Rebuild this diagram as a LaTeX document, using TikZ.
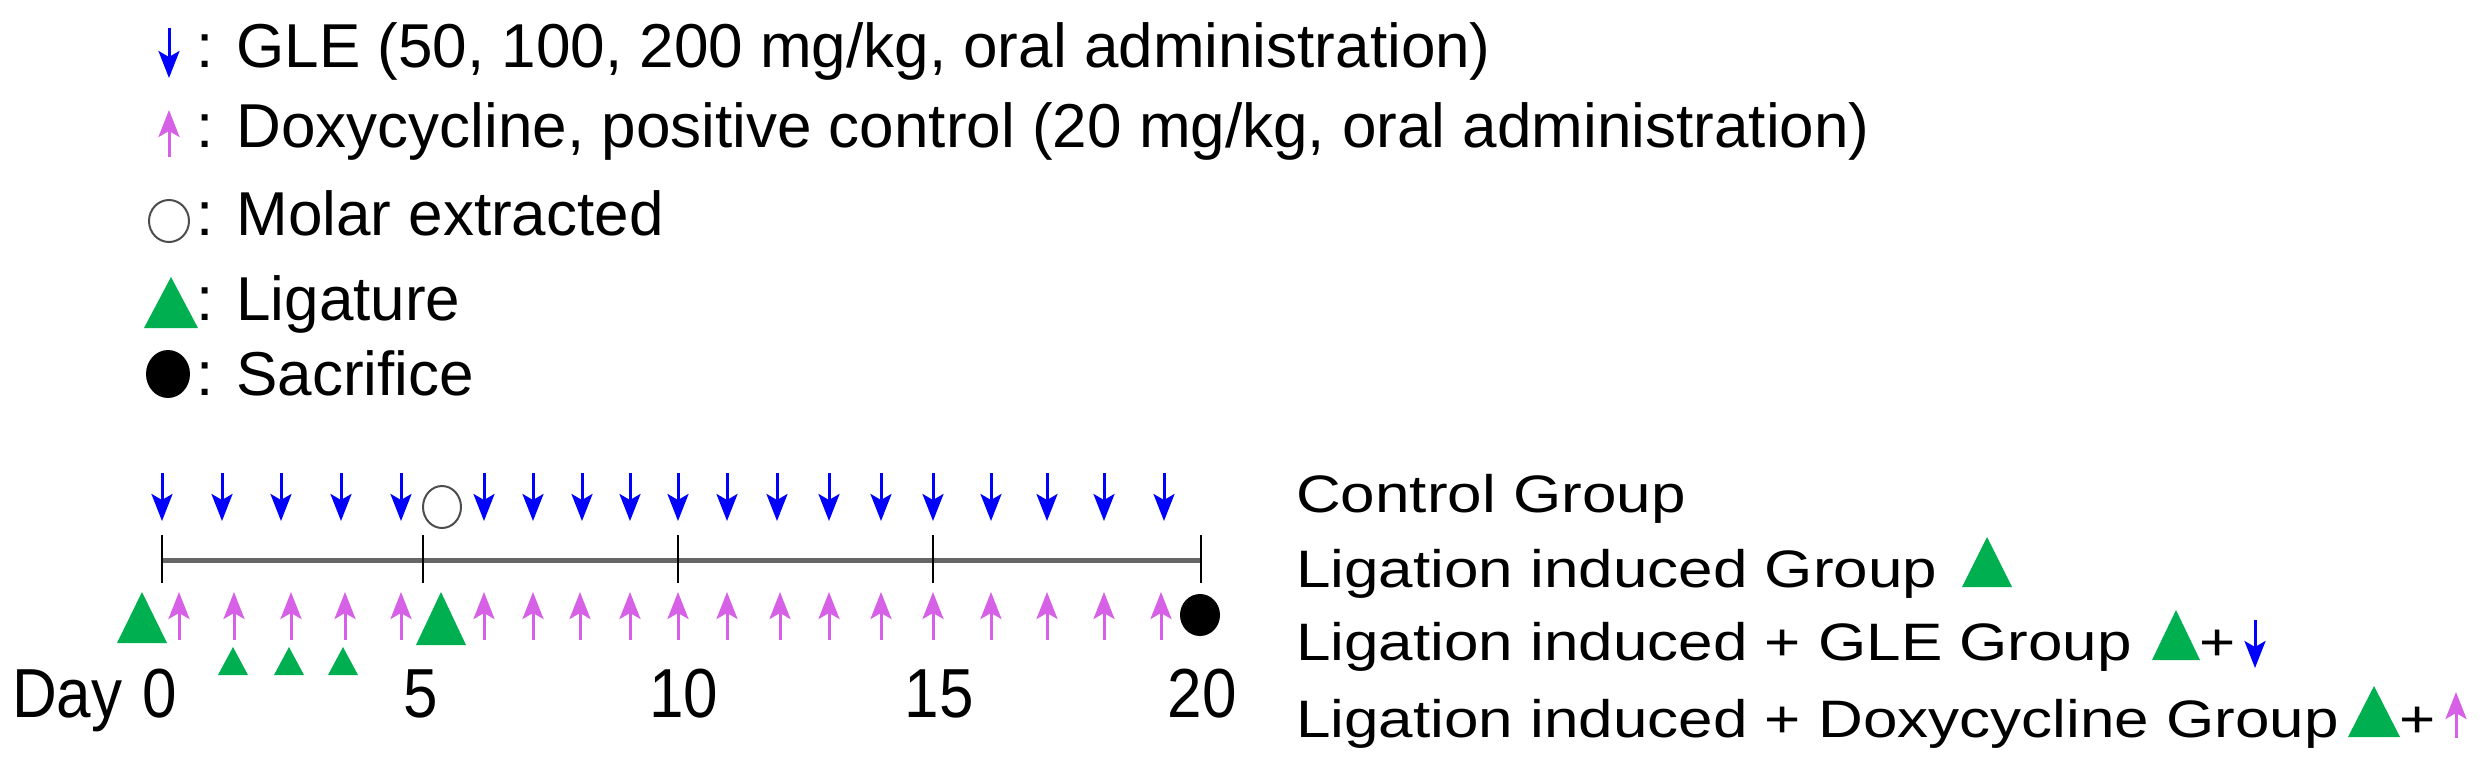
\documentclass[tikz,border=0pt]{standalone}
\usepackage{fontspec}
\setmainfont{Liberation Sans}
\usetikzlibrary{arrows.meta}
\definecolor{bl}{RGB}{0,0,255}
\definecolor{mg}{RGB}{214,96,230}
\definecolor{gr}{RGB}{0,176,80}
\tikzset{
  txt/.style={anchor=base west,inner sep=0pt,font=\fontsize{62}{70}\selectfont},
  grp/.style={txt,yscale=0.85},
  num/.style={anchor=base,inner sep=0pt,font=\fontsize{62}{70}\selectfont,yscale=1.12},
  dn/.style={bl,line width=3pt,-{Stealth[length=27pt,width=21pt,inset=6pt]}},
  up/.style={mg,line width=3pt,-{Stealth[length=27pt,width=21pt,inset=6pt]}},
}
\begin{document}
\begin{tikzpicture}[x=1pt,y=1pt,every node/.append style={transform shape}]
\useasboundingbox (0,0) rectangle (2485,-764);
% legend
\draw[dn] (169,-28) -- (169,-78);
\node[txt] (l1) at (196,-67) {: GLE (50, 100, 200 mg/kg, oral administration)};
\draw[up] (169,-157) -- (169,-110);
\node[txt] (l2) at (196,-147) {: Doxycycline, positive control (20 mg/kg, oral administration)};
\draw[black!70,line width=2pt] (169,-221) ellipse (20 and 21);
\node[txt] (l3) at (196,-235) {: Molar extracted};
\fill[gr] (171,-277) -- (144,-328) -- (198,-328) -- cycle;
\node[txt] (l4) at (196,-320) {: Ligature};
\fill[black] (168,-374) ellipse (22 and 24);
\node[txt] (l5) at (196,-395) {: Sacrifice};
% axis
\draw[black!60,line width=5pt] (162,-560) -- (1201,-560);
\foreach \x in {162,423,678,933,1201} \draw[black,line width=2pt] (\x,-535) -- (\x,-583);
\node[txt,yscale=1.12] (day) at (12,-717) {Day};
\foreach \x/\n in {160/0,421/5,684/10,939/15,1202/20}
  \node[num] (d\n) at (\x,-717) {\n};
% blue arrows
\foreach \x in {162,222,281,341,401,484,533,582,630,678,727,777,829,881,933,991,1047,1104,1164}
  \draw[dn] (\x,-473) -- (\x,-521);
\draw[black!70,line width=2pt] (442,-507) ellipse (19 and 21);
% magenta arrows
\foreach \x in {179,234,291,345,401,484,533,580,630,678,727,780,829,881,933,991,1047,1104,1161}
  \draw[up] (\x,-640) -- (\x,-592);
\fill[gr] (142,-592) -- (117,-643) -- (167,-643) -- cycle;
\fill[gr] (441,-592) -- (416,-645) -- (466,-645) -- cycle;
\foreach \x in {233,289,343} \fill[gr] (\x,-647) -- ++(-15,-28) -- ++(30,0) -- cycle;
\fill[black] (1200,-615) ellipse (20 and 21);
% groups
\node[grp] (g1) at (1296,-512) {Control Group};
\node[grp] (g2) at (1296,-587) {Ligation induced Group};
\node[grp] (g3) at (1296,-660) {Ligation induced + GLE Group};
\node[grp] (g4) at (1296,-737) {Ligation induced + Doxycycline Group};
\fill[gr] (1987,-537) -- (1962,-587) -- (2012,-587) -- cycle;
\fill[gr] (2176,-610) -- (2152,-660) -- (2200,-660) -- cycle;
\node[grp] (p3) at (2199,-660) {+};
\draw[dn] (2255,-620) -- (2255,-668);
\fill[gr] (2374,-686) -- (2348,-737) -- (2400,-737) -- cycle;
\node[grp] (p4) at (2399,-737) {+};
\draw[up] (2456,-738) -- (2456,-692);
\end{tikzpicture}
\end{document}
